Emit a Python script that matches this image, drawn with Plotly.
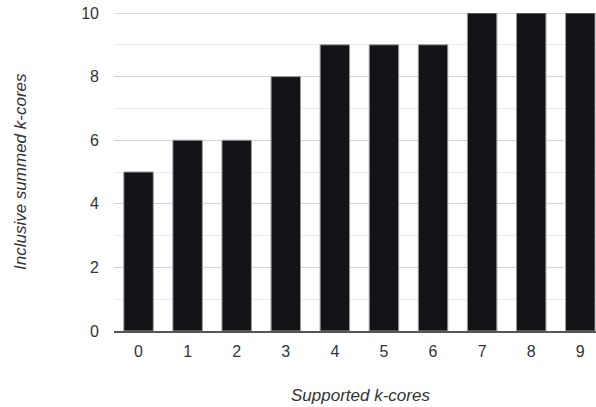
import plotly.graph_objects as go

categories = ["0", "1", "2", "3", "4", "5", "6", "7", "8", "9"]
values = [5, 6, 6, 8, 9, 9, 9, 10, 10, 10]
y_ticks = [0, 2, 4, 6, 8, 10]
x_title = "Supported k-cores"
y_title = "Inclusive summed k-cores"

fig = go.Figure(go.Bar(
    x=categories, y=values,
    marker=dict(color="#121317", line=dict(color="#9a9a9a", width=1)),
))

font = "Liberation Sans, Arial, sans-serif"
fig.update_layout(
    width=596, height=407,
    margin=dict(l=114, r=0, t=13, b=76, autoexpand=False),
    paper_bgcolor="white", plot_bgcolor="white",
    bargap=0.4,
    showlegend=False,
    font=dict(family=font, size=16, color="#333333"),
    xaxis=dict(
        type="category", range=[-0.5, 9.32], automargin=False,
        showgrid=False, showline=True, linecolor="#555555", linewidth=1.5,
        ticks="", ticklabelstandoff=5, ticklabeloverflow="allow",
        tickfont=dict(size=16, color="#333333"),
    ),
    yaxis=dict(
        range=[0, 10], tickvals=y_ticks, automargin=False,
        showgrid=True, gridcolor="#d6d6d6", gridwidth=1,
        minor=dict(dtick=1, showgrid=True, gridcolor="#ececec", gridwidth=1),
        zeroline=False, showline=False,
        ticks="", ticklabelstandoff=14, ticklabeloverflow="allow",
        tickfont=dict(size=16, color="#333333"),
    ),
    shapes=[
        dict(type="line", xref="paper", yref="y", x0=0, x1=1,
             y0=y_ticks[-1], y1=y_ticks[-1], layer="below",
             line=dict(color="#d0d0d0", width=1.5)),
    ],
    annotations=[
        dict(text="<i>" + x_title + "</i>", xref="paper", yref="paper",
             x=0.512, y=0, yshift=-64, xanchor="center", yanchor="middle",
             showarrow=False, font=dict(size=17, color="#333333")),
        dict(text="<i>" + y_title + "</i>", xref="paper", yref="paper",
             x=0, y=0.5, xshift=-94, xanchor="center", yanchor="middle",
             textangle=-90, showarrow=False,
             font=dict(size=17, color="#333333")),
    ],
)

fig.write_html(
    "out.html",
    config={"displayModeBar": False},
    post_script="document.body.style.margin='0';document.body.style.overflow='hidden';",
)
